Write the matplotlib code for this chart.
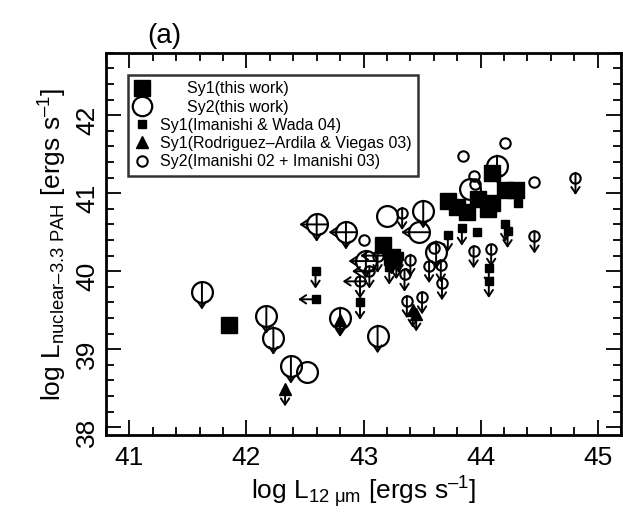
import numpy as np
import matplotlib
matplotlib.use("Agg")
import matplotlib.pyplot as plt
from matplotlib.lines import Line2D
from matplotlib.transforms import ScaledTranslation

plt.rcParams['font.family'] = ['Liberation Sans', 'DejaVu Sans']
plt.rcParams['mathtext.fontset'] = 'custom'
plt.rcParams['mathtext.rm'] = 'Liberation Sans'
plt.rcParams['mathtext.it'] = 'Liberation Sans:italic'

# Sy1 (this work) - big filled squares: x, y, down-limit, left-limit
sy1_x = [41.85, 43.17, 43.24, 43.72, 43.80, 43.88, 43.98, 44.06, 44.10, 44.10, 44.21, 44.30]
sy1_y = [39.31, 40.33, 40.18, 40.90, 40.82, 40.76, 40.92, 40.80, 40.88, 41.26, 41.04, 41.04]
sy1_down = [0, 0, 1, 0, 0, 0, 0, 0, 0, 0, 0, 0]
sy1_left = [0] * 12

# Sy2 (this work) - big open circles
sy2_x = [41.62, 42.17, 42.23, 42.38, 42.52, 42.60, 42.85, 42.80, 43.02, 43.12,
         43.20, 43.47, 43.51, 43.91, 44.14, 43.62]
sy2_y = [39.73, 39.42, 39.15, 38.78, 38.71, 40.60, 40.50, 39.40, 40.13, 39.17,
         40.71, 40.50, 40.77, 41.05, 41.35, 40.25]
sy2_down = [1, 1, 1, 1, 0, 1, 1, 1, 1, 1, 0, 0, 1, 0, 1, 1]
sy2_left = [0, 0, 0, 0, 0, 1, 1, 0, 1, 0, 0, 1, 0, 0, 0, 0]

# Sy1 (Imanishi & Wada 04) - small filled squares
iw_x = [42.59, 42.59, 42.97, 43.22, 43.72, 43.84, 43.97, 44.07, 44.07, 44.21, 44.23, 44.32, 43.30]
iw_y = [40.00, 39.64, 39.60, 40.05, 40.47, 40.55, 40.50, 40.04, 39.88, 40.60, 40.52, 40.87, 40.20]
iw_down = [1, 0, 1, 1, 1, 1, 0, 1, 1, 1, 1, 0, 1]
iw_left = [0, 1, 0, 0, 0, 0, 0, 0, 0, 0, 0, 0, 0]

# Sy1 (Rodriguez-Ardila & Viegas 03) - filled triangles
ra_x = [42.33, 42.80, 43.42, 43.45]
ra_y = [38.49, 39.38, 39.50, 39.45]
ra_down = [1, 1, 1, 1]
ra_left = [0, 0, 0, 0]

# Sy2 (Imanishi 02 + Imanishi 03) - small open circles
im_x = [43.85, 44.21, 44.46, 43.94, 43.00, 43.60, 43.33, 44.81, 44.46, 43.94,
        44.09, 43.35, 43.37, 43.50, 43.67, 43.56, 43.66, 43.28, 42.97, 43.05,
        43.95, 43.40, 43.12]
im_y = [41.48, 41.64, 41.14, 41.22, 40.40, 40.30, 40.75, 41.20, 40.45, 40.26,
        40.28, 39.96, 39.62, 39.67, 39.85, 40.07, 40.08, 40.12, 39.87, 40.00,
        41.12, 40.15, 40.20]
im_down = [0, 0, 0, 0, 0, 0, 1, 1, 1, 1, 1, 1, 1, 1, 1, 1, 1, 1, 1, 1, 0, 1, 1]
im_left = [0, 0, 0, 0, 0, 0, 0, 0, 0, 0, 0, 0, 0, 0, 0, 0, 0, 0, 1, 1, 0, 0, 1]

fig = plt.figure(figsize=(6.23, 5.13), dpi=100)
ax = fig.add_axes([0.170, 0.152, 0.827, 0.745])


def offset(dx, dy):
    return ax.transData + ScaledTranslation(dx / 72, dy / 72, fig.dpi_scale_trans)


def draw_limits(xs, ys, downs, lefts, r):
    # arrows start at the marker edge and end ~12 pt away from the centre
    style = dict(arrowstyle='->,head_length=0.45,head_width=0.3', lw=1.4,
                 color='black', shrinkA=0, shrinkB=0, mutation_scale=10)
    for x, y, d, l in zip(xs, ys, downs, lefts):
        if d:
            ax.annotate('', xy=(x, y), xycoords=offset(0, -12.5),
                        xytext=(x, y), textcoords=offset(0, r),
                        arrowprops=style, zorder=2)
        if l:
            ax.annotate('', xy=(x, y), xycoords=offset(-12.5, 0),
                        xytext=(x, y), textcoords=offset(r, 0),
                        arrowprops=style, zorder=2)


draw_limits(sy2_x, sy2_y, sy2_down, sy2_left, 7.5)
draw_limits(im_x, im_y, im_down, im_left, 3.5)
draw_limits(iw_x, iw_y, iw_down, iw_left, 0)
draw_limits(ra_x, ra_y, ra_down, ra_left, 0)
draw_limits(sy1_x, sy1_y, sy1_down, sy1_left, 0)

ax.plot(sy1_x, sy1_y, 's', ms=11.5, color='black', zorder=4)
ax.plot(sy2_x, sy2_y, 'o', ms=15, mfc='none', mec='black', mew=1.6, zorder=4)
ax.plot(iw_x, iw_y, 's', ms=6, color='black', zorder=4)
ax.plot(ra_x, ra_y, '^', ms=9, color='black', zorder=4)
ax.plot(im_x, im_y, 'o', ms=7.5, mfc='none', mec='black', mew=1.5, zorder=4)

ax.set_xlim(40.8, 45.2)
ax.set_ylim(37.9, 42.8)
ax.set_xticks([41, 42, 43, 44, 45])
ax.set_yticks([38, 39, 40, 41, 42])
ax.set_xticks(np.arange(40.8, 45.21, 0.2), minor=True)
ax.set_yticks(np.arange(38.0, 42.81, 0.2), minor=True)
ax.tick_params(which='both', direction='in', top=True, right=True, width=1.3,
               labelsize=19)
ax.tick_params(which='major', length=11)
ax.tick_params(which='minor', length=6)
ax.tick_params(axis='y', labelrotation=90, pad=5)
ax.tick_params(axis='x', pad=8)
for s in ax.spines.values():
    s.set_linewidth(2)

ax.set_xlabel('log L$_{\\rm 12\\ μm}$ [ergs s$^{\\rm \u20131}$]', fontsize=19, labelpad=3)
ax.set_ylabel('log L$_{\\rm nuclear\u20133.3\\ PAH}$ [ergs s$^{\\rm \u20131}$]', fontsize=19,
              labelpad=4)
fig.text(0.263, 0.93, '(a)', fontsize=20, ha='center', va='center')

handles = [
    Line2D([], [], ls='none', marker='s', ms=11.5, color='black'),
    Line2D([], [], ls='none', marker='o', ms=14, mfc='none', mec='black', mew=1.6),
    Line2D([], [], ls='none', marker='s', ms=6, color='black'),
    Line2D([], [], ls='none', marker='^', ms=9, color='black'),
    Line2D([], [], ls='none', marker='o', ms=7.5, mfc='none', mec='black', mew=1.5),
]
labels = ['      Sy1(this work)', '      Sy2(this work)', 'Sy1(Imanishi & Wada 04)',
          'Sy1(Rodriguez\u2013Ardila & Viegas 03)', 'Sy2(Imanishi 02 + Imanishi 03)']
leg = ax.legend(handles, labels, loc='upper left', bbox_to_anchor=(0.043, 0.942),
                borderaxespad=0, fontsize=11.5, frameon=True, fancybox=False,
                edgecolor='black', handlelength=1.0, handletextpad=0.6,
                labelspacing=0.2, borderpad=0.4)
leg.get_frame().set_linewidth(1.8)

fig.savefig('out.png', dpi=100)
